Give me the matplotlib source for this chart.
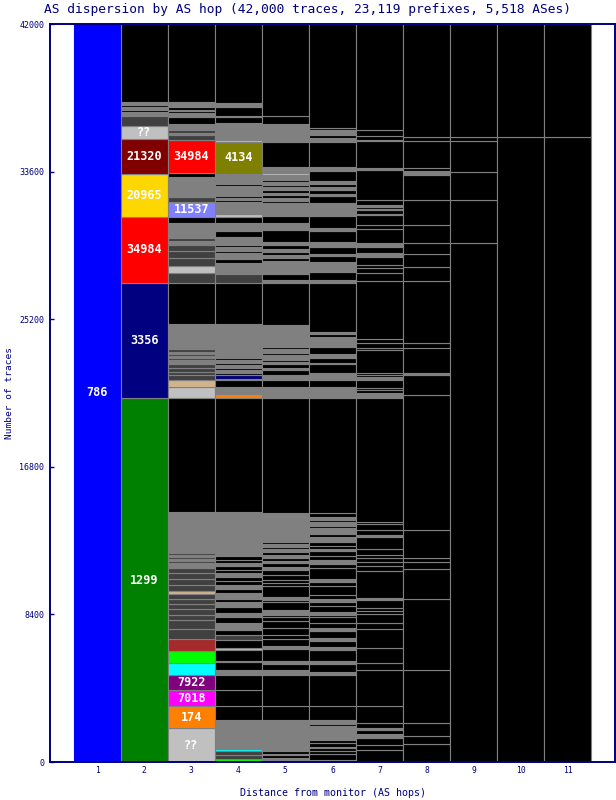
import matplotlib
matplotlib.use("Agg")
import matplotlib.pyplot as plt

# colour codes used in the column strings below
palette = {
    'k': '#000000', 'g': '#808080', 'd': '#404040', 'l': '#c0c0c0',
    'B': '#0000ff', 'G': '#008000', 'N': '#000080', 'R': '#ff0000',
    'Y': '#ffd700', 'M': '#800000', 'O': '#808000', 'V': '#8080ff',
    'o': '#ff8000', 'm': '#ff00ff', 'p': '#800080', 'c': '#00ffff',
    'L': '#00ff00', 'b': '#a52a2a', 't': '#d2b48c',
}

hops = [1, 2, 3, 4, 5, 6, 7, 8, 9, 10, 11]

# cumulative tops (number of traces) of each segment, bottom -> top
col1_tops = [42000]
col1_cols = "B"
col1_labels = {0: '786'}

col2_tops = [20700, 27275, 31028, 33440, 35464, 36186, 36750, 36850, 36920, 37000,
             37080, 37160, 37240, 37300, 37380, 37551, 42000]
col2_cols = "GNRYMldgkgkgkgkgk"
col2_labels = {0: '1299', 1: '3356', 2: '34984', 3: '20965', 4: '21320', 5: '??'}

col3_tops = [1911, 3162, 4072, 4925, 5607, 6290, 6972, 7541, 8093, 8377,
             8701, 8986, 9287, 9554, 9759, 10100, 10420, 10740, 11040, 11300,
             11420, 11560, 11680, 11780, 11903, 14218, 20700, 21326, 21741, 22025,
             22179, 22420, 22650, 22880, 23000, 23110, 23220, 23330, 23504, 24926,
             27275, 27809, 28242, 28697, 29100, 29400, 29650, 29800, 29948, 30653,
             31028, 31864, 32131, 32300, 32380, 32560, 32620, 32900, 32960, 33300,
             33497, 35390, 35680, 35800, 35950, 36299, 36716, 36800, 36900, 36960,
             37060, 37120, 37284, 37551, 42000]
col3_cols = ("lompcLbddd" "ddddtddddg" "dgdgdgkltd" "dddgdgdgdg"
             "kdldddgdgg" "kVdglgkgkg" "kRdgdgkgkg" "kgkgk")
col3_labels = {0: '??', 1: '174', 2: '7018', 3: '7922', 51: '11537', 61: '34984'}

col4_tops = [188, 400, 650, 720, 2406, 3202, 4072, 4965, 5249, 5664,
             5721, 6347, 6460, 6955, 7240, 7524, 7922, 8250, 8500, 8800,
             9100, 9300, 9600, 9850, 10050, 10300, 10550, 10750, 10950, 11150,
             11350, 11500, 11700, 11850, 11903, 12300, 12358, 14218, 20700, 20945,
             21360, 21741, 21798, 22025, 22139, 22300, 22400, 22600, 22700, 22900,
             23000, 23250, 23300, 23500, 23560, 23828, 24926, 27275, 27800, 28400,
             28600, 28950, 29100, 29300, 29400, 29516, 29900, 30200, 30653, 31028,
             31182, 31847, 32000, 32100, 32200, 32500, 32560, 32800, 32900, 33100,
             33160, 33457, 35294, 35390, 35600, 35700, 36340, 36700, 36760, 37284,
             37511, 42000]
col4_cols = ("Lddcgkkkgk" "lklkdkgkgk" "gkgkgkkgkk" "gkkgkgkgko"
             "gkkNkgkgkg" "kgkgkggkdg" "kgkgkggkgk" "lgkgkgkgkg"
             "kgOlgdgkgk" "gk")
col4_labels = {82: '4134'}

col5_tops = [100, 200, 400, 450, 603, 2406, 3202, 4965, 5209, 5590,
             5721, 6427, 6574, 6995, 7240, 7620, 7996, 8280, 8377, 8660,
             9133, 9230, 9418, 10026, 10180, 10367, 10652, 10936, 11124, 11300,
             11450, 11600, 11800, 11950, 12100, 12250, 12400, 12500, 12642, 13115,
             13170, 14195, 20700, 21360, 21741, 21850, 21920, 22025, 22314, 22400,
             22650, 22750, 22900, 23150, 23250, 23500, 23600, 23828, 24186, 24220,
             24869, 27275, 27428, 27800, 28000, 28510, 28700, 28850, 29000, 29200,
             29400, 29600, 30270, 30653, 31068, 31790, 31950, 32100, 32250, 32400,
             32550, 32700, 32850, 33000, 33150, 33400, 33500, 33838, 35294, 35600,
             35650, 35900, 35950, 36299, 36740, 42000]
col5_cols = ("kgkgkgkkgk" "gkgkkkkkkg" "kkgkkkkkgk" "gkgkgkgkgg"
             "kgkgkglgkg" "kgkgkgkggk" "gkgkggkgkg" "kgkgkgkgkg"
             "kgkgkglgkg" "kgkgkk")
col5_labels = {}

col6_tops = [100, 470, 603, 790, 880, 1080, 1228, 2024, 2178, 2406,
             3202, 4965, 5100, 5590, 5721, 6390, 6540, 6900, 7050, 7450,
             7600, 7900, 8270, 8380, 8510, 8900, 9100, 9300, 9531, 10026,
             10270, 10420, 11050, 11277, 11505, 11750, 12000, 12100, 12300, 12500,
             12800, 13000, 13300, 13450, 13650, 13800, 13950, 14161, 20700, 21360,
             21741, 22139, 22650, 22700, 23000, 23200, 23600, 24203, 24350, 24488,
             27275, 27428, 27900, 28470, 28800, 28900, 29300, 29600, 30200, 30400,
             31068, 31790, 32200, 32350, 32550, 32700, 32900, 33050, 33630, 33838,
             35294, 35500, 35700, 35959, 36076, 42000]
col6_cols = ("kkkkkkkgkg" "kkgkgkgkgk" "gkkkgkkgkk" "kgkkgkkgkk"
             "gkgkgkgkkg" "kgkgkgkgkg" "kgkgkgkgkg" "kgkgkgkgkg"
             "kgkgkk")
col6_labels = {}

col7_tops = [660, 984, 1382, 1600, 1800, 1951, 2218, 3202, 5249, 5630,
             6490, 7564, 7922, 8430, 8600, 8770, 9230, 9327, 10862, 11150,
             11370, 11600, 11790, 12130, 12832, 12926, 13211, 13552, 13683, 20700,
             20985, 21170, 21270, 21741, 21930, 22025, 22139, 23437, 23551, 23828,
             24100, 27390, 27809, 28093, 28280, 28750, 28981, 29320, 29516, 30312,
             30560, 31108, 31182, 31409, 31466, 31597, 31694, 31978, 33684, 33781,
             35351, 35420, 35618, 35959, 42000]
col7_cols = ("kkkgkgkkkk" "kkkkkkkgkk" "kkkkkgkkkk" "gkkkgkkkkk"
             "kkkkkkgkgk" "kkgkgkgkkg" "kgkkk")
col7_labels = {}

col8_tops = [1041, 1496, 2218, 5249, 9270, 10976, 11408, 11601, 13211, 20871,
             22025, 22122, 23544, 23828, 27355, 28150, 28908, 29516, 30560, 31978,
             33400, 33644, 33781, 35333, 35578, 42000]
col8_cols = "kkkkkkkkkkkgkkkkkkkkkgkkkk"
col8_labels = {}

col9_tops = [29516, 31978, 33553, 35333, 35578, 42000]
col9_cols = "kkkkkk"
col9_labels = {}

col10_tops = [35578, 42000]
col10_cols = "kk"
col10_labels = {}

col11_tops = [35578, 42000]
col11_cols = "kk"
col11_labels = {}

columns = [
    (col1_tops, col1_cols, col1_labels), (col2_tops, col2_cols, col2_labels),
    (col3_tops, col3_cols, col3_labels), (col4_tops, col4_cols, col4_labels),
    (col5_tops, col5_cols, col5_labels), (col6_tops, col6_cols, col6_labels),
    (col7_tops, col7_cols, col7_labels), (col8_tops, col8_cols, col8_labels),
    (col9_tops, col9_cols, col9_labels), (col10_tops, col10_cols, col10_labels),
    (col11_tops, col11_cols, col11_labels),
]

yticks = [0, 8400, 16800, 25200, 33600, 42000]
navy = '#000080'
mono = 'DejaVu Sans Mono'

fig = plt.figure(figsize=(6.16, 8), dpi=100)
ax = fig.add_axes([50 / 616, 38 / 800, 565 / 616, 738 / 800])

for x, (tops, cols, labels) in zip(hops, columns):
    bottom = 0
    for i, (top, code) in enumerate(zip(tops, cols)):
        edge = palette['B'] if code == 'B' else '#808080'
        ax.bar(x, top - bottom, bottom=bottom, width=1.0, color=palette[code],
               edgecolor=edge, linewidth=0.8, align='center')
        if i in labels:
            ax.text(x, (bottom + top) / 2, labels[i], color='white', ha='center',
                    va='center', fontsize=8.5, fontweight='bold', family=mono)
        bottom = top

ax.set_xlim(0, 12)
ax.set_ylim(0, 42000)
ax.set_xticks(hops)
ax.set_xticklabels([str(h) for h in hops], fontsize=5.8, family=mono, color=navy)
ax.set_yticks(yticks)
ax.set_yticklabels([str(v) for v in yticks], fontsize=6, family=mono, color=navy)
ax.tick_params(axis='x', length=0, pad=3)
ax.tick_params(axis='y', direction='in', length=3, color=navy, width=1, pad=4)
for s in ax.spines.values():
    s.set_color(navy)
    s.set_linewidth(1.4)

ax.set_xlabel('Distance from monitor (AS hops)', fontsize=7.2, family=mono,
              color=navy, labelpad=9)
ax.set_ylabel('Number of traces', fontsize=6.8, family=mono, color=navy, labelpad=4)
fig.text(0.5, 0.988, 'AS dispersion by AS hop (42,000 traces, 23,119 prefixes, 5,518 ASes)',
         ha='center', va='center', fontsize=9.3, family=mono, color=navy)

fig.savefig('out.png', dpi=100)
